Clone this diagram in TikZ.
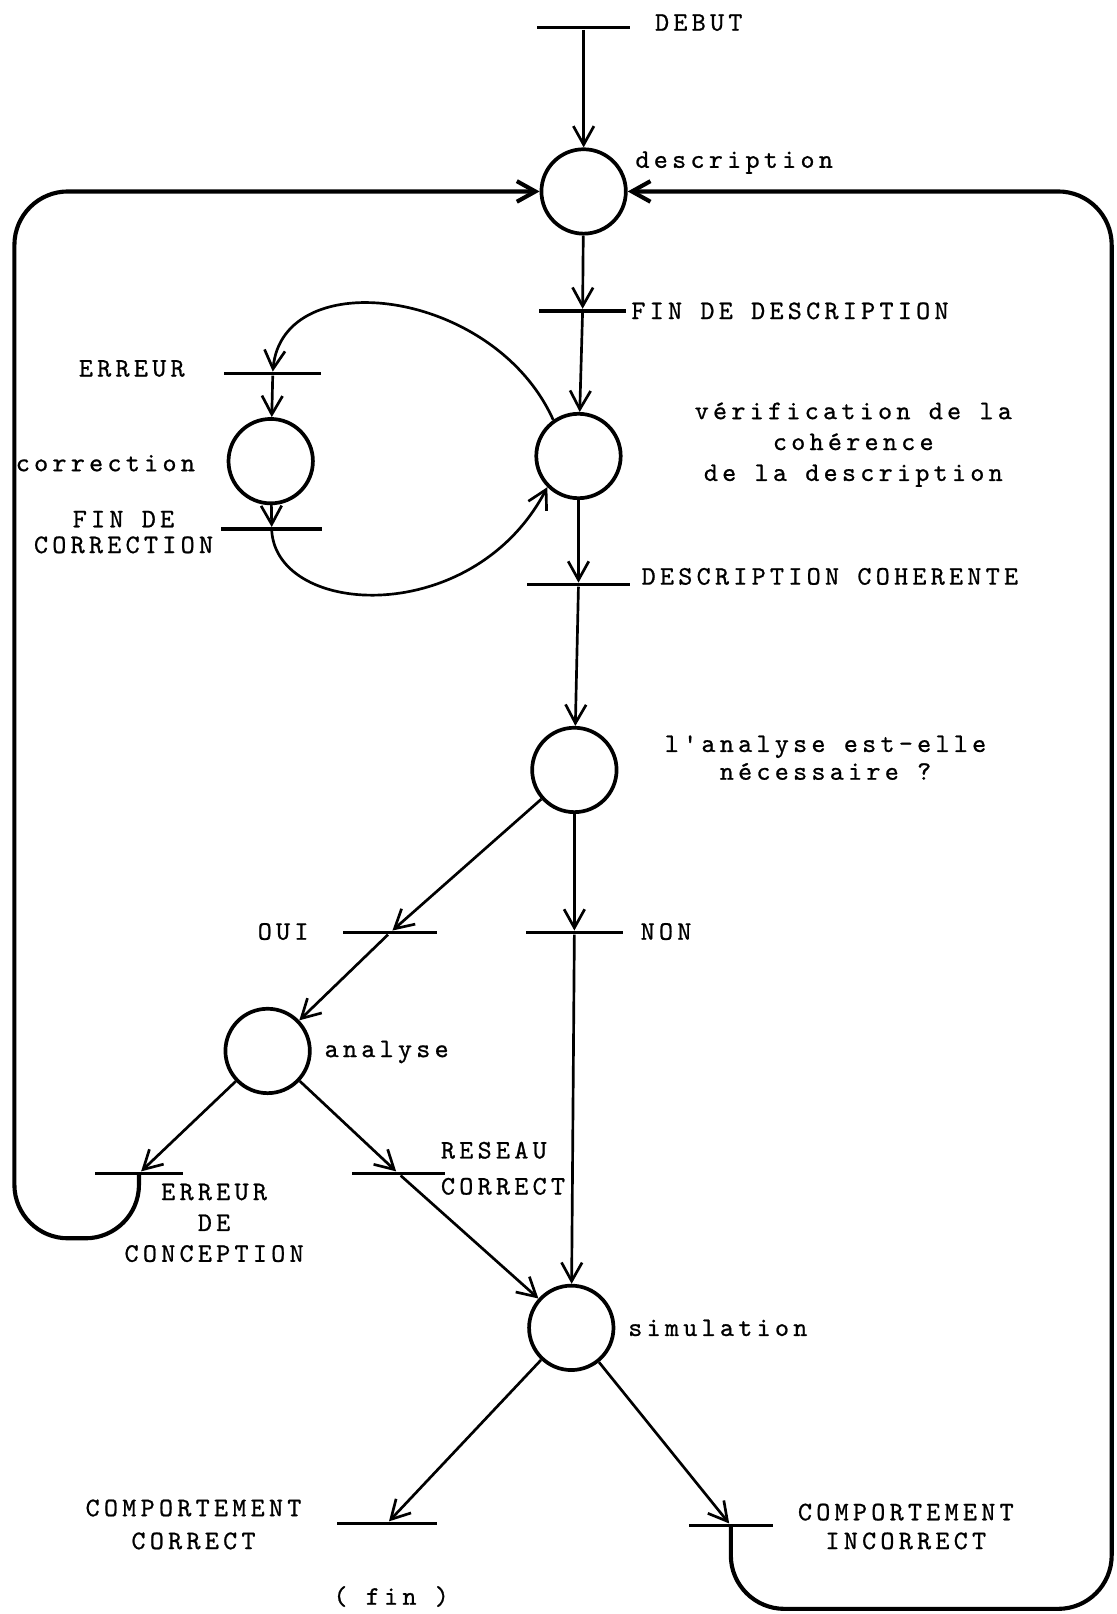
\documentclass[tikz,border=0pt]{standalone}
\usepackage{fontspec}
\newfontfamily\typewr{lmmono10-regular.otf}[LetterSpace=16, FakeBold=0.8]
\usetikzlibrary{arrows.meta}

\begin{document}
\begin{tikzpicture}[
    x=0.5pt, y=-0.5pt,
    place/.style={circle, draw, line width=1.8pt, minimum size=41pt, inner sep=0pt},
    transbar/.style={fill=black, inner sep=0pt, minimum height=1.6pt},
    flow/.style={-{Straight Barb[length=9pt, width=10pt]}, line width=1.3pt},
    retour/.style={flow, line width=2pt, rounded corners=26pt},
    lbl/.style={font=\typewr\fontsize{13}{15}\selectfont, inner sep=0pt},
  ]
  \useasboundingbox (0,0) rectangle (1085,1568);

  % ---- places
  \node[place] (pDesc)    at (567,186)  {};
  \node[place] (pVerif)   at (562,443)  {};
  \node[place] (pCorr)    at (263,448)  {};
  \node[place] (pChoix)   at (558,748)  {};
  \node[place] (pAnalyse) at (260,1021) {};
  \node[place] (pSimul)   at (555,1290) {};

  % ---- transitions
  \node[transbar, minimum width=45pt] (tDebut)     at (567,27)   {};
  \node[transbar, minimum width=42pt] (tFinDesc)   at (566,302)  {};
  \node[transbar, minimum width=47pt] (tErr)       at (265,363)  {};
  \node[transbar, minimum width=49pt] (tFinCorr)   at (264,514)  {};
  \node[transbar, minimum width=50pt] (tCoh)       at (562,568)  {};
  \node[transbar, minimum width=46pt] (tOui)       at (379,906)  {};
  \node[transbar, minimum width=47pt] (tNon)       at (558,906)  {};
  \node[transbar, minimum width=43pt] (tErrConc)   at (135,1140) {};
  \node[transbar, minimum width=45pt] (tReseau)    at (387,1140) {};
  \node[transbar, minimum width=49pt] (tCorrect)   at (376,1480) {};
  \node[transbar, minimum width=41pt] (tIncorrect) at (710,1482) {};

  % ---- labels
  \node[lbl, anchor=west] (lDebut)   at (636,22)   {DEBUT};
  \node[lbl, anchor=west] (lDesc)    at (617,158)  {description};
  \node[lbl, anchor=west] (lFinDesc) at (613,302)  {FIN DE DESCRIPTION};
  \node[lbl]              (lErr)     at (128,358)  {ERREUR};
  \node[lbl, anchor=west] (lCorr)    at (15,450)   {correction};
  \node[lbl, align=center] (lFinCorr) at (120,517) {FIN DE\\[-2.5pt]CORRECTION};
  \node[lbl, align=center] (lVerif)  at (829,432)
    {vérification de la\\cohérence\\de la description};
  \node[lbl, anchor=west] (lCoh)     at (623,560)  {DESCRIPTION COHERENTE};
  \node[lbl, align=center] (lChoix)  at (802,736)
    {l'analyse est-elle\\[-1.5pt]nécessaire ?};
  \node[lbl, anchor=west] (lOui)     at (250,905)  {OUI};
  \node[lbl, anchor=west] (lNon)     at (622,905)  {NON};
  \node[lbl, anchor=west] (lAnalyse) at (315,1022) {analyse};
  \node[lbl, align=center] (lErrConc) at (208,1188) {ERREUR\\DE\\CONCEPTION};
  \node[lbl, align=left, anchor=west] (lReseau) at (428,1135)
    {RESEAU\\[2.5pt]CORRECT};
  \node[lbl, anchor=west] (lSimul)   at (610,1290) {simulation};
  \node[lbl, align=center] (lCorrect) at (188,1481)
    {COMPORTEMENT\\[1pt]CORRECT};
  \node[lbl]              (lFin)     at (380,1551) {( fin )};
  \node[lbl, align=center] (lIncorrect) at (880,1483)
    {COMPORTEMENT\\[-1pt]INCORRECT};

  % ---- arcs of the main chain
  \draw[flow] (tDebut) -- (pDesc);
  \draw[flow] (pDesc) -- (tFinDesc);
  \draw[flow] (tFinDesc) -- (pVerif);
  \draw[flow] (pVerif) -- (tCoh);
  \draw[flow] (tCoh) -- (pChoix);

  % ---- correction loop
  \draw[flow] (pVerif.125) .. controls (480,280) and (275,255) .. (tErr.north);
  \draw[flow] (tErr) -- (pCorr);
  \draw[flow] (pCorr) -- (tFinCorr);
  \draw[flow] (tFinCorr.south) .. controls (270,600) and (460,610) .. (pVerif.225);

  % ---- choice, analysis, simulation
  \draw[flow] (pChoix) -- (tOui);
  \draw[flow] (tOui) -- (pAnalyse);
  \draw[flow] (pChoix) -- (tNon);
  \draw[flow] (tNon) -- (pSimul);
  \draw[flow] (pAnalyse) -- (tErrConc);
  \draw[flow] (pAnalyse) -- (tReseau);
  \draw[flow] (tReseau) -- (pSimul);
  \draw[flow] (pSimul) -- (tCorrect);
  \draw[flow] (pSimul) -- (tIncorrect);

  % ---- return paths to description
  \draw[retour] (tErrConc.center) -- (135,1203) -- (14,1203) -- (14,186) -- (pDesc.west);
  \draw[retour] (tIncorrect.center) -- (710,1563) -- (1080,1563) -- (1080,186) -- (pDesc.east);
\end{tikzpicture}
\end{document}
